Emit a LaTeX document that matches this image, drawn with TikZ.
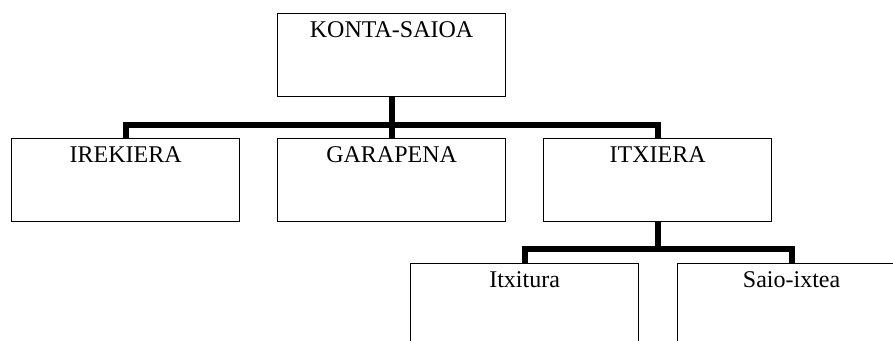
\documentclass[tikz,border=0pt]{standalone}
\usepackage{fontspec}
\setmainfont{Liberation Serif}
\begin{document}
\begin{tikzpicture}[x=1pt,y=-1pt,
  box/.style={draw=black, line width=1.2pt, fill=white, inner sep=0pt,
    text width=228pt, align=center, text height=23.5pt, text depth=59.5pt,
    font=\fontsize{24}{28}\selectfont, anchor=north west},
  conn/.style={line width=6pt, line cap=butt, line join=miter}]
\useasboundingbox (0,0) rectangle (893,340);
\clip (0,0) rectangle (893,340);
\node[box] (top) at (277,13) {KONTA-SAIOA};
\node[box] (ire) at (11,138) {IREKIERA};
\node[box] (gar) at (277,138) {GARAPENA};
\node[box] (itx) at (543,138) {ITXIERA};
\node[box] (itu) at (410,263) {Itxitura};
\node[box] (sai) at (677,263) {Saio-ixtea};
\coordinate (b1) at (391,124.5);
\coordinate (b2) at (657,249);
\draw[conn] (top.south) -- (top.south |- gar.north);
\draw[conn] (ire.north) |- (b1) -| (itx.north);
\draw[conn] (itx.south) -- (itx.south |- b2);
\draw[conn] (itu.north) |- (b2) -| (sai.north);
\end{tikzpicture}
\end{document}
